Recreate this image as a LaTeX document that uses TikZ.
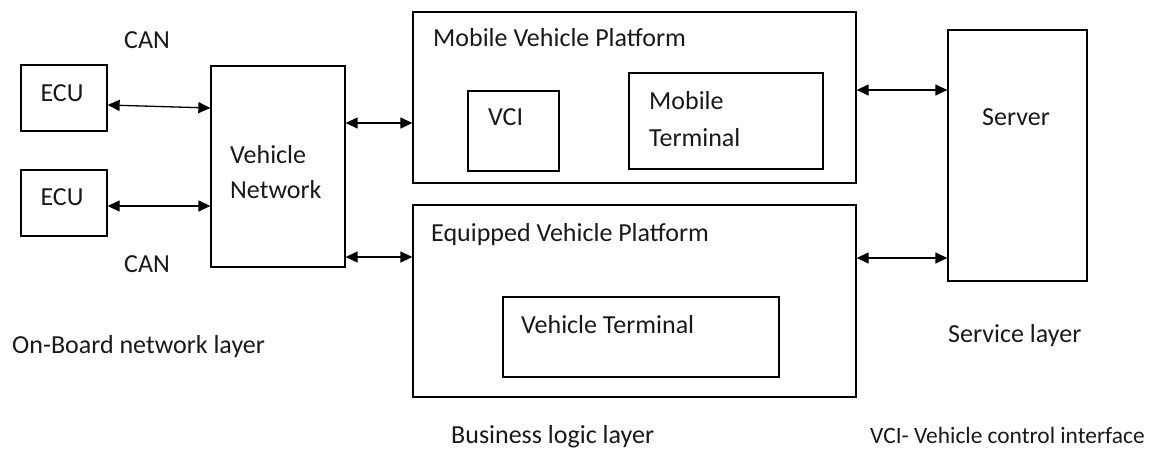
\documentclass[tikz,border=0pt]{standalone}
\usepackage{fontspec}
\setmainfont{Carlito}
\usetikzlibrary{arrows.meta}
\begin{document}
\begin{tikzpicture}[x=1pt,y=-1pt,
  box/.style={draw=black,line width=1.3pt,minimum width=#1,inner sep=0pt},
  lbl/.style={inner sep=0pt,font=\fontsize{26}{31}\selectfont,text=black!90},
  arr/.style={line width=1.3pt,{Triangle[length=12pt,width=11pt]}-{Triangle[length=12pt,width=11pt]}}]
\useasboundingbox (0,0) rectangle (1153,448);
% boxes
\node[box=86pt,minimum height=66pt] (ecu1) at (64,98) {};
\node[box=86pt,minimum height=66pt] (ecu2) at (64,203) {};
\node[box=134pt,minimum height=201pt] (vn) at (278,166.5) {};
\node[box=443pt,minimum height=171pt] (mvp) at (634.5,97.5) {};
\node[box=91pt,minimum height=80pt] (vci) at (513.5,131) {};
\node[box=194pt,minimum height=96pt] (mt) at (726,121) {};
\node[box=443pt,minimum height=192pt] (evp) at (634.5,301) {};
\node[box=276pt,minimum height=80pt] (vt) at (641,337) {};
\node[box=139pt,minimum height=251pt] (srv) at (1017.5,155.5) {};
% texts
\node[lbl,anchor=base] (can1) at (147,48) {CAN};
\node[lbl,anchor=base] (can2) at (147,272) {CAN};
\node[lbl,anchor=base] (tecu1) at (62,101.5) {ECU};
\node[lbl,anchor=base] (tecu2) at (62,205.5) {ECU};
\node[lbl,anchor=base west] (tvn1) at (230,163) {Vehicle};
\node[lbl,anchor=base west] (tvn2) at (230,198) {Network};
\node[lbl,anchor=base west] (tmvp) at (433,46) {Mobile Vehicle Platform};
\node[lbl,anchor=base west] (tvci) at (488,125) {VCI};
\node[lbl,anchor=base west] (tmt1) at (649,109) {Mobile};
\node[lbl,anchor=base west] (tmt2) at (649,146) {Terminal};
\node[lbl,anchor=base west] (tevp) at (431,241) {Equipped Vehicle Platform};
\node[lbl,anchor=base west] (tvt) at (521,333) {Vehicle Terminal};
\node[lbl,anchor=base] (tsrv) at (1016,125) {Server};
\node[lbl,anchor=base west] (tobl) at (12,353) {On-Board network layer};
\node[lbl,anchor=base west] (tsl) at (948,342) {Service layer};
\node[lbl,anchor=base west] (tbll) at (451,443) {Business logic layer};
\node[lbl,anchor=base west,font=\fontsize{23.4}{28}\selectfont] (tvcik) at (870,443) {VCI- Vehicle control interface};
% arrows
\draw[arr] ([yshift=-7pt]ecu1.east) -- ([yshift=58.5pt]vn.west);
\draw[arr] ([yshift=-3pt]ecu2.east) -- ([yshift=-39.5pt]vn.west);
\draw[arr] ([yshift=43.5pt]vn.east) -- ([yshift=-25.5pt]mvp.west);
\draw[arr] ([yshift=-90.5pt]vn.east) -- ([yshift=44pt]evp.west);
\draw[arr] ([yshift=7.5pt]mvp.east) -- ([yshift=65.5pt]srv.west);
\draw[arr] ([yshift=43pt]evp.east) -- ([yshift=-102.5pt]srv.west);
\end{tikzpicture}
\end{document}
